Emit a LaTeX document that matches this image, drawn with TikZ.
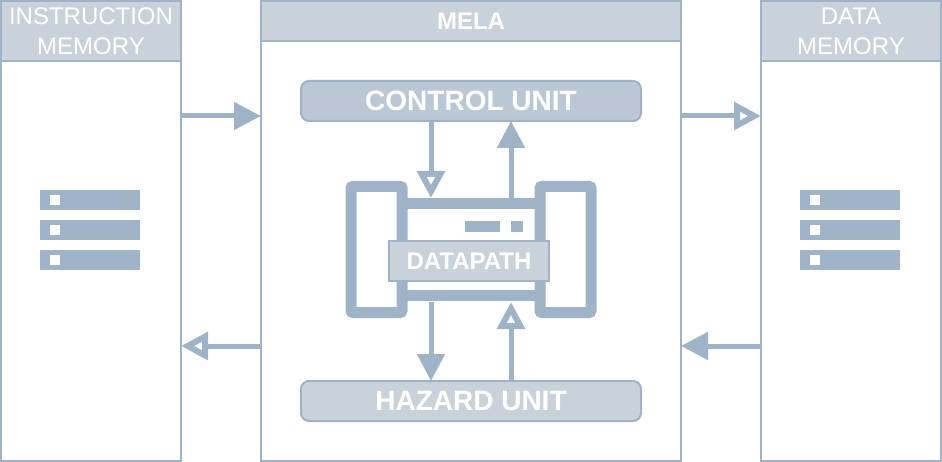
\documentclass[tikz,border=0pt]{standalone}
\usepackage{fontspec}
\setmainfont{Liberation Sans}
\usetikzlibrary{arrows.meta}
\definecolor{edgeblue}{HTML}{9FB3C8}
\definecolor{headgrey}{HTML}{C9D2DA}
\definecolor{ctrlblue}{HTML}{B9C8D4}
\tikzset{
	box/.style={draw=edgeblue, line width=2pt, inner sep=0pt, outer sep=0pt, fill=white},
	headbox/.style={box, fill=headgrey, text=white, align=center},
	unitbox/.style={box, rounded corners=8pt, text=white, minimum width=340pt, minimum height=40pt, font=\fontsize{28}{30}\selectfont\bfseries},
	solidarrow/.style={draw=edgeblue, line width=5pt, -{Triangle[length=27pt,width=27pt,fill=edgeblue]}},
	hollowarrow/.style={draw=edgeblue, line width=5pt, -{Triangle[open,length=27pt,width=27pt,line width=6pt]}},
	iconframe/.style={draw=edgeblue, line width=11pt, rounded corners=2pt, inner sep=0pt, minimum width=51pt, minimum height=126pt},
	iconbar/.style={fill=edgeblue, inner sep=0pt, outer sep=0pt},
}
\begin{document}
\begin{tikzpicture}[x=1pt, y=-1pt, font=\fontsize{24}{30}\selectfont]
	\useasboundingbox (0,0) rectangle (942,462);
	% main boxes
	\node[box, minimum width=180pt, minimum height=460pt] (imem) at (91,231) {};
	\node[box, minimum width=420pt, minimum height=460pt] (mela) at (471,231) {};
	\node[box, minimum width=180pt, minimum height=460pt] (dmem) at (851,231) {};
	\node[headbox, minimum width=180pt, minimum height=60pt] (imemhead) at (91,31) {INSTRUCTION\\MEMORY};
	\node[headbox, minimum width=420pt, minimum height=40pt, font=\fontsize{24}{30}\selectfont\bfseries] (melahead) at (471,21) {MELA};
	\node[headbox, minimum width=180pt, minimum height=60pt] (dmemhead) at (851,31) {DATA\\MEMORY};
	% memory icons
	\foreach \memx in {90,850} {
		\foreach \memy in {200,230,260} {
			\fill[edgeblue] (\memx-50,\memy-10) rectangle (\memx+50,\memy+10);
			\fill[white] (\memx-40,\memy-5) rectangle (\memx-30,\memy+5);
		}
	}
	% units
	\node[unitbox, fill=ctrlblue] (control) at (471,101) {CONTROL UNIT};
	\node[unitbox, fill=headgrey] (hazard) at (471,401) {HAZARD UNIT};
	% datapath icon
	\node[iconframe] (dpleft) at (376.5,249.5) {};
	\node[iconframe] (dpright) at (565.5,249.5) {};
	\node[iconbar, minimum width=128pt, minimum height=11pt] (dptop) at (471,203.5) {};
	\node[iconbar, minimum width=128pt, minimum height=11pt] (dpbottom) at (471,295.5) {};
	\node[iconbar, minimum width=35pt, minimum height=11pt] (dpled) at (482.5,226.5) {};
	\node[iconbar, minimum width=12pt, minimum height=11pt] (dpdot) at (517,226.5) {};
	\node[box, fill=headgrey, text=white, minimum width=160pt, minimum height=40pt, font=\fontsize{24}{30}\selectfont\bfseries] (datapath) at (469,261) {DATAPATH};
	% connections
	\draw[solidarrow] (imem.east |- 0,116) -- (mela.west |- 0,116);
	\draw[hollowarrow] (mela.west |- 0,346) -- (imem.east |- 0,346);
	\draw[hollowarrow] (mela.east |- 0,116) -- (dmem.west |- 0,116);
	\draw[solidarrow] (dmem.west |- 0,346) -- (mela.east |- 0,346);
	\draw[hollowarrow] ([xshift=-40pt]control.south) -- ([xshift=-40pt]dptop.north);
	\draw[solidarrow] ([xshift=40pt]dptop.north) -- ([xshift=40pt]control.south);
	\draw[solidarrow] ([xshift=-40pt,yshift=-1pt]dpbottom.south) -- ([xshift=-40pt]hazard.north);
	\draw[hollowarrow] ([xshift=40pt]hazard.north) -- ([xshift=40pt,yshift=-1pt]dpbottom.south);
\end{tikzpicture}
\end{document}
